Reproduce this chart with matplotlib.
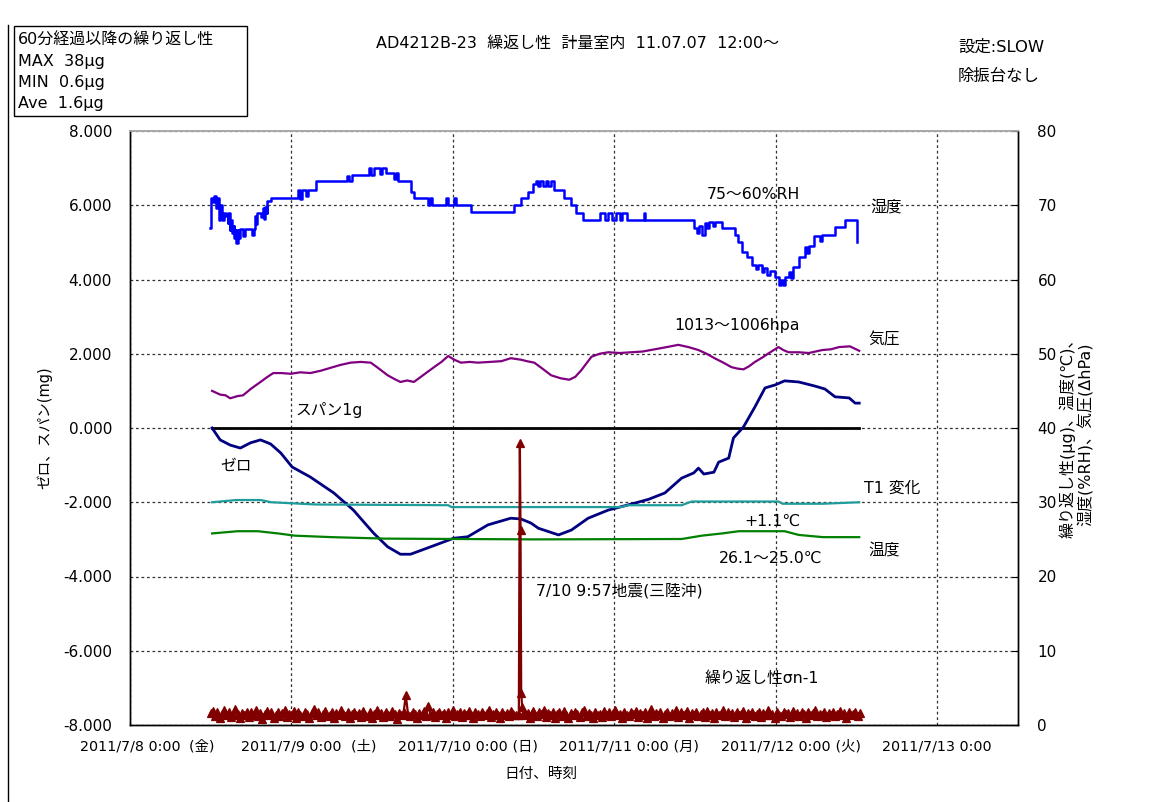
import numpy as np
import matplotlib
matplotlib.use("Agg")
import matplotlib.pyplot as plt
from matplotlib.lines import Line2D
from matplotlib.patches import Rectangle

plt.rcParams['font.family'] = ['DejaVu Sans', 'Noto Sans CJK JP']

# ---------------------------------------------------------------------------
# Data: time in hours since 2011/7/8 0:00
# ---------------------------------------------------------------------------
# Humidity (%RH, right axis), logged as stepped values
humidity = [
    (11.9, 66.9), (12.1, 71.0), (12.3, 70.4), (12.5, 71.2), (12.8, 69.6), (13.0, 71.0),
    (13.2, 68.0), (13.4, 70.0), (13.7, 68.0), (13.9, 69.0), (14.3, 68.6), (14.5, 67.6),
    (14.6, 69.0), (14.8, 66.6), (14.9, 68.0), (15.2, 66.2), (15.4, 67.2), (15.5, 65.6),
    (15.7, 66.6), (15.8, 64.9), (16.0, 66.6), (16.1, 65.6), (16.4, 66.8), (16.8, 65.8),
    (17.1, 66.8), (18.1, 66.0), (18.4, 66.8), (18.6, 68.6), (18.8, 67.5), (18.9, 69.0),
    (19.4, 68.4), (19.7, 69.6), (19.9, 68.2), (20.0, 69.8), (20.3, 69.0), (20.4, 70.6),
    (20.9, 71.0), (24.9, 72.0), (25.3, 70.9), (25.6, 72.0), (26.1, 71.2), (26.4, 72.0),
    (27.6, 73.2), (32.3, 74.0), (32.6, 73.2), (33.0, 74.1), (35.5, 75.0), (35.8, 74.1),
    (36.2, 75.0), (37.2, 74.2), (37.5, 75.0), (38.0, 74.3), (39.2, 73.5), (39.5, 74.3),
    (39.8, 73.2), (41.7, 71.8), (42.2, 71.0), (44.3, 70.0), (44.6, 71.0), (44.9, 70.0),
    (47.0, 71.0), (47.2, 70.0), (48.2, 71.0), (48.4, 70.0), (50.7, 69.1), (57.1, 70.0),
    (58.1, 71.0), (59.2, 71.8), (59.9, 72.8), (60.3, 73.2), (60.6, 72.6), (61.0, 73.3),
    (61.4, 72.6), (61.8, 73.3), (62.2, 72.6), (62.6, 73.2), (63.1, 72.0), (64.5, 71.0),
    (65.6, 70.0), (66.3, 69.0), (67.4, 68.0), (69.8, 69.0), (70.6, 68.0), (71.0, 69.0),
    (71.7, 68.0), (72.2, 69.0), (72.9, 68.0), (73.2, 69.0), (73.9, 68.0), (76.4, 69.0),
    (76.6, 68.0), (83.9, 67.0), (84.3, 66.2), (84.6, 67.2), (85.0, 66.0), (85.4, 67.6),
    (85.8, 67.0), (86.0, 67.8), (86.6, 67.2), (87.0, 67.8), (88.0, 67.0), (89.9, 66.0),
    (90.4, 65.0), (91.0, 63.7), (91.7, 63.0), (92.4, 62.0), (93.0, 61.4), (93.4, 62.0),
    (93.9, 61.0), (94.3, 61.6), (94.7, 60.6), (95.2, 61.2), (95.9, 60.3), (96.5, 59.3),
    (96.8, 60.0), (97.1, 59.3), (97.4, 60.3), (97.9, 61.0), (98.2, 60.2), (98.5, 61.7),
    (99.4, 63.0), (100.3, 64.4), (100.6, 63.6), (101.0, 64.5), (101.7, 65.9), (102.5, 65.2),
    (102.8, 66.0), (104.8, 67.1), (106.3, 68.0), (108.1, 65.0),
]

# Pressure (ΔhPa, right axis)
pressure = [
    (12.2, 45.0), (13.4, 44.5), (14.2, 44.4), (14.9, 44.0), (16.0, 44.3), (16.8, 44.4),
    (18.0, 45.3), (19.4, 46.2), (20.3, 46.8), (21.3, 47.4), (22.5, 47.4), (23.9, 47.3),
    (25.3, 47.5), (26.8, 47.4), (28.3, 47.7), (29.8, 48.1), (31.3, 48.5), (32.8, 48.8),
    (34.3, 48.9), (35.8, 48.8), (37.0, 48.0), (38.3, 47.1), (39.3, 46.6), (40.2, 46.2),
    (41.2, 46.4), (42.2, 46.2), (43.7, 47.2), (45.2, 48.2), (46.3, 48.9), (47.3, 49.7),
    (48.2, 49.2), (49.2, 48.8), (50.5, 48.9), (51.7, 48.8), (53.5, 48.9), (55.2, 49.0),
    (56.6, 49.4), (58.1, 49.2), (59.0, 49.0), (60.1, 48.8), (61.3, 48.0), (62.6, 47.1),
    (64.0, 46.7), (65.3, 46.5), (66.2, 46.9), (67.1, 47.8), (68.6, 49.6), (69.8, 50.0),
    (71.1, 50.2), (72.8, 50.1), (74.5, 50.2), (76.2, 50.3), (78.0, 50.6), (79.8, 50.9),
    (81.5, 51.2), (83.0, 50.9), (84.5, 50.5), (85.7, 50.0), (86.9, 49.4), (88.2, 48.8),
    (89.4, 48.2), (90.3, 48.0), (91.2, 47.9), (92.0, 48.3), (92.9, 48.9), (94.0, 49.5),
    (95.0, 50.1), (96.4, 50.9), (97.1, 50.5), (97.9, 50.2), (99.4, 50.2), (100.9, 50.1),
    (102.9, 50.5), (104.2, 50.6), (105.4, 50.9), (107.0, 51.0), (108.4, 50.4),
]

# Zero point drift (mg, left axis)
zero = [
    (12.2, 0.00), (13.4, -0.32), (14.9, -0.46), (16.4, -0.54), (17.9, -0.40), (19.4, -0.32),
    (20.9, -0.43), (22.4, -0.67), (24.1, -1.05), (26.8, -1.32), (30.3, -1.75), (33.2, -2.21),
    (36.2, -2.83), (38.3, -3.20), (40.2, -3.40), (41.7, -3.40), (44.7, -3.20), (48.1, -2.97),
    (50.2, -2.93), (53.2, -2.61), (56.6, -2.43), (58.1, -2.45), (59.6, -2.56), (60.7, -2.70),
    (63.7, -2.88), (65.6, -2.75), (68.1, -2.43), (71.1, -2.21), (74.5, -2.05), (77.1, -1.92),
    (79.5, -1.75), (82.0, -1.35), (83.8, -1.21), (84.5, -1.08), (85.3, -1.24), (86.8, -1.19),
    (87.5, -0.92), (89.0, -0.81), (89.7, -0.27), (91.2, 0.03), (92.9, 0.57), (94.4, 1.08),
    (95.9, 1.16), (97.3, 1.27), (99.4, 1.24), (101.8, 1.13), (103.3, 1.05), (104.8, 0.84),
    (106.9, 0.81), (107.8, 0.67), (108.4, 0.67),
]

# Span deviation at 1 g (mg, left axis)
span = [(12.2, 0.0), (108.4, 0.0)]

# T1 temperature change (right axis)
t1_change = [
    (12.2, 30.0), (15.8, 30.3), (19.4, 30.3), (21.0, 30.0), (27.6, 29.7), (47.3, 29.6),
    (47.8, 29.35), (73.0, 29.35), (74.0, 29.6), (82.0, 29.6), (83.5, 30.1), (96.4, 30.1),
    (97.0, 29.8), (103.0, 29.8), (108.4, 30.0),
]

# Room temperature (°C, right axis)
temperature = [
    (12.2, 25.8), (16.0, 26.1), (19.0, 26.1), (22.0, 25.8), (24.5, 25.5), (30.0, 25.3),
    (38.0, 25.1), (60.0, 25.0), (82.0, 25.05), (85.0, 25.5), (88.0, 25.8), (90.5, 26.1),
    (97.3, 26.1), (99.4, 25.6), (103.0, 25.3), (108.4, 25.3),
]

# Repeatability sigma n-1 (µg, right axis): 20-minute samples plus the quake event
rep_before = [
    1.6, 1.9, 1.2, 1.7, 1.0, 1.5, 2.0, 1.3, 1.8, 1.1, 1.4, 2.1, 1.5, 0.9, 1.6,
    1.3, 1.8, 1.1, 1.7, 1.4, 2.0, 1.2, 1.6, 0.8, 1.5, 1.9, 1.3, 1.7, 1.0, 1.4,
    1.8, 1.2, 1.6, 2.0, 1.1, 1.5, 1.3, 1.9, 1.0, 1.7, 1.4, 1.2, 1.8, 1.5, 0.9,
    1.6, 2.1, 1.3, 1.7, 1.1, 1.5, 1.9, 1.2, 1.4, 1.8, 1.0, 1.6, 1.3, 2.0, 1.5,
    1.2, 1.7, 0.9, 1.5, 1.8, 1.3, 1.6, 1.1, 1.9, 1.4, 1.2, 1.7, 1.0, 1.5, 2.0,
    1.3, 1.6, 1.1, 1.8, 1.4, 1.2, 1.9, 1.5, 0.8, 1.6, 1.3, 1.7, 4.0, 1.4, 1.2,
    1.8, 1.5, 1.0, 1.6, 1.3, 1.9, 1.2, 2.6, 1.4, 1.7, 1.1, 1.5, 1.8, 1.3, 1.6,
    1.0, 1.7, 1.4, 2.0, 1.2, 1.5, 1.8, 1.1, 1.6, 1.3, 1.9, 1.4, 0.9, 1.7, 1.5,
    1.2, 1.8, 1.3, 1.6, 2.0, 1.1, 1.5, 1.7, 1.4, 1.0, 1.8, 1.3, 1.6, 1.2, 1.9,
    1.5, 1.3, 1.4,
]
quake_hours = [57.8, 57.95, 58.05, 58.15, 58.3]
quake_values = [1.4, 38.0, 26.2, 4.3, 2.4]
rep_after = [
    1.7, 1.3, 1.6, 1.0, 1.9, 1.4, 1.2, 1.8, 1.5, 2.0, 1.1, 1.6, 1.3, 1.7, 0.9,
    1.5, 1.8, 1.2, 1.9, 1.4, 1.0, 1.6, 1.3, 1.8, 1.5, 1.1, 1.7, 2.0, 1.2, 1.6,
    1.4, 0.9, 1.8, 1.3, 1.5, 1.1, 1.9, 1.4, 1.7, 1.2, 1.6, 2.0, 1.3, 1.5, 1.0,
    1.8, 1.4, 1.2, 1.7, 1.5, 1.9, 1.1, 1.6, 1.3, 1.8, 1.0, 1.5, 2.1, 1.2, 1.6,
    1.4, 1.7, 0.9, 1.5, 1.8, 1.2, 1.6, 1.4, 2.0, 1.1, 1.7, 1.3, 1.5, 1.9, 1.0,
    1.6, 1.4, 1.8, 1.2, 1.5, 1.7, 1.1, 1.9, 1.3, 1.6, 1.0, 1.8, 1.4, 1.5, 2.0,
    1.2, 1.7, 1.3, 1.6, 1.1, 1.8, 1.4, 1.5, 1.9, 1.0, 1.6, 1.3, 1.7, 1.2, 1.5,
    1.8, 1.1, 1.6, 1.4, 2.0, 1.3, 1.5, 0.9, 1.7, 1.4, 1.2, 1.8, 1.5, 1.6, 1.1,
    1.9, 1.3, 1.6, 1.2, 1.7, 1.5, 1.0, 1.8, 1.4, 1.6, 2.0, 1.2, 1.5, 1.3, 1.7,
    1.1, 1.6, 1.4, 1.8, 1.2, 1.5, 1.9, 1.3, 1.6, 1.0, 1.7, 1.4, 1.5, 1.8, 1.2,
    1.6,
]

# Axis labels
date_labels = ['2011/7/8 0:00', '2011/7/9 0:00', '2011/7/10 0:00',
               '2011/7/11 0:00', '2011/7/12 0:00', '2011/7/13 0:00']
weekday_labels = ['  (金)', '  (土)', ' (日)', ' (月)', ' (火)', '']
day_hours = [0, 24, 48, 72, 96, 120]
left_ticks = [-8, -6, -4, -2, 0, 2, 4, 6, 8]
right_ticks = [0, 10, 20, 30, 40, 50, 60, 70, 80]


def xy(pairs):
    arr = np.array(pairs, dtype=float)
    return arr[:, 0], arr[:, 1]


rep_hours = np.concatenate([12 + np.arange(len(rep_before)) / 3.0,
                            quake_hours,
                            58.5 + np.arange(len(rep_after)) / 3.0])
rep_values = np.concatenate([rep_before, quake_values, rep_after])

# ---------------------------------------------------------------------------
# Figure
# ---------------------------------------------------------------------------
W, H = 1155, 802
fig = plt.figure(figsize=(W / 100, H / 100), dpi=100)
fig.patch.set_facecolor('white')

ax = fig.add_axes([130 / W, 77 / H, 888 / W, 594 / H])
ax2 = ax.twinx()

ax.set_xlim(0, 132)
ax.set_ylim(-8, 8)
ax2.set_ylim(0, 80)

# grid
dash = (0, (2.2, 2.2))
ax.set_xticks(day_hours)
ax.set_xticklabels([])
ax.set_yticks(left_ticks)
ax.set_yticklabels([f'{v:.3f}' for v in left_ticks], fontsize=11)
ax.grid(True, which='major', linestyle=dash, color='#333333', linewidth=0.9)
ax.tick_params(axis='x', length=0)
ax.tick_params(axis='y', length=0, pad=13)
ax2.set_yticks(right_ticks)
ax2.set_yticklabels([str(v) for v in right_ticks], fontsize=11)
ax2.tick_params(axis='y', direction='in', length=4, pad=14, width=0.8)

for a in (ax, ax2):
    for side in ('left', 'right', 'bottom'):
        a.spines[side].set_color('black')
        a.spines[side].set_linewidth(1.0)
    a.spines['top'].set_color('#a8a8a8')
    a.spines['top'].set_linewidth(1.2)

# series
hx, hy = xy(humidity)
ax2.plot(hx, hy, drawstyle='steps-post', color='#0000FF', lw=1.8, zorder=3)

px, py = xy(pressure)
ax2.plot(px, py, color='#800080', lw=1.6, zorder=3)

sx, sy = xy(span)
ax.plot(sx, sy, color='black', lw=2.0, zorder=3)

zx, zy = xy(zero)
ax.plot(zx, zy, color='#000080', lw=2.0, zorder=3)

tx, ty = xy(t1_change)
ax2.plot(tx, ty, color='#1F9C9C', lw=1.6, zorder=3)

cx, cy = xy(temperature)
ax2.plot(cx, cy, color='#008000', lw=1.6, zorder=3)

ax2.plot(rep_hours, rep_values, color='#800000', lw=1.6, marker='^',
         markersize=5.5, markeredgewidth=0.9, zorder=4)

# date labels under the axis
xt = ax.get_xaxis_transform()
for h, d, wd in zip(day_hours, date_labels, weekday_labels):
    t = ax.text(h, -0.036, d, transform=xt, ha='center', va='center',
                fontsize=10.3, clip_on=False)
    if wd:
        ax.annotate(wd, xy=(1, 0.5), xycoords=t, ha='left', va='center',
                    fontsize=10.3, annotation_clip=False)

fig.text(541 / W, 1 - 773 / H, '日付、時刻', ha='center', va='center', fontsize=10.5)

# axis titles
ax.set_ylabel('ゼロ、スパン(mg)', fontsize=10.5)
ax.yaxis.set_label_coords((52 - 130) / 888, 0.5)
ax2.set_ylabel('繰り返し性(μg)、温度(℃)、\n湿度(%RH)、気圧(ΔhPa)', fontsize=11.5,
               rotation=90, linespacing=1.15)
ax2.yaxis.set_label_coords((1059 - 130) / 888, 0.49)

# series annotations (hours, left-axis units)
notes = [
    (85.7, 6.28, '75～60%RH'),
    (110.0, 5.96, '湿度'),
    (80.9, 2.75, '1013～1006hpa'),
    (109.7, 2.37, '気圧'),
    (24.6, 0.49, 'スパン1g'),
    (13.4, -1.02, 'ゼロ'),
    (109.1, -1.62, 'T1 変化'),
    (91.4, -2.51, '+1.1℃'),
    (87.5, -3.50, '26.1～25.0℃'),
    (109.7, -3.29, '温度'),
    (60.4, -4.39, '7/10 9:57地震(三陸沖)'),
    (85.4, -6.74, '繰り返し性σn-1'),
]
for nx, ny, s in notes:
    ax.text(nx, ny, s, ha='left', va='center', fontsize=11.3, zorder=6, clip_on=False)

# title and settings
fig.text(578 / W, 1 - 43 / H, 'AD4212B-23  繰返し性  計量室内  11.07.07  12:00～',
         ha='center', va='center', fontsize=11.5)
fig.text(958 / W, 1 - 47 / H, '設定:SLOW', ha='left', va='center', fontsize=11.8)
fig.text(958 / W, 1 - 76 / H, '除振台なし', ha='left', va='center', fontsize=11.8)

# summary box
fig.add_artist(Rectangle((14 / W, 1 - 116 / H), 233 / W, 90 / H,
                         transform=fig.transFigure, fill=False,
                         edgecolor='black', linewidth=1.0))
summary = ['60分経過以降の繰り返し性', 'MAX  38μg', 'MIN  0.6μg', 'Ave  1.6μg']
for i, s in enumerate(summary):
    fig.text(18 / W, 1 - (40 + 21.3 * i) / H, s, ha='left', va='center', fontsize=11.5)

# frame line on the left of the chart area
fig.add_artist(Line2D([8 / W, 8 / W], [0, 1 - 25 / H], transform=fig.transFigure,
                      color='black', linewidth=1.0))

fig.savefig('out.png', dpi=100, facecolor='white')
